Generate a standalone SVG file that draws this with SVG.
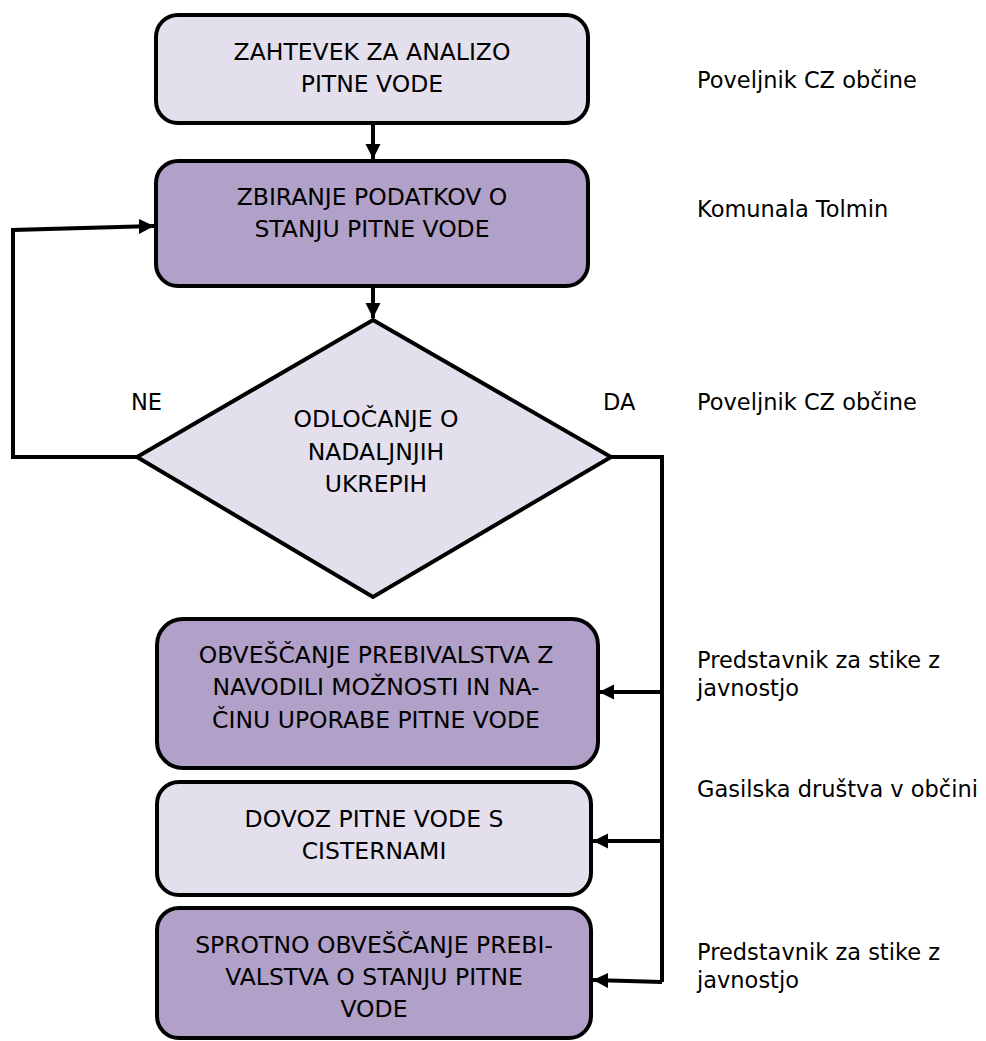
<svg xmlns="http://www.w3.org/2000/svg" width="986" height="1041" viewBox="0 0 986 1041">
<style>
.box{stroke:#000;stroke-width:4}
.light{fill:#E4DFEC}
.dark{fill:#B1A0C7}
.t{font-family:"DejaVu Sans",sans-serif;font-size:23.5px;fill:#000;text-anchor:middle}
.r{font-family:"DejaVu Sans",sans-serif;font-size:22.5px;fill:#000}
.c{fill:none;stroke:#000;stroke-width:4}
</style>
<defs>
<marker id="ah" markerWidth="4" markerHeight="4" refX="3.8" refY="2" orient="auto" markerUnits="strokeWidth">
<path d="M0,0.1 L3.8,2 L0,3.9 Z" fill="#000"/>
</marker>
</defs>
<rect width="986" height="1041" fill="#fff"/>
<g id="connectors">
<path class="c" d="M373,123 V159" marker-end="url(#ah)"/>
<path class="c" d="M373,286 V318" marker-end="url(#ah)"/>
<path class="c" d="M137,457 H13 V230 L154,226" marker-end="url(#ah)"/>
<path class="c" d="M611,457 H662 V982"/>
<path class="c" d="M662,692 H599" marker-end="url(#ah)"/>
<path class="c" d="M662,841 H593" marker-end="url(#ah)"/>
<path class="c" d="M662,982 L593,980" marker-end="url(#ah)"/>
</g>
<g id="n1">
<rect class="box light" x="156" y="15" width="432" height="108" rx="22"/>
<text class="t" x="372" y="60">ZAHTEVEK ZA ANALIZO</text>
<text class="t" x="372" y="92">PITNE VODE</text>
</g>
<g id="n2">
<rect class="box dark" x="156" y="161" width="432" height="125" rx="22"/>
<text class="t" x="372" y="205">ZBIRANJE PODATKOV O</text>
<text class="t" x="372" y="237">STANJU PITNE VODE</text>
</g>
<g id="n3">
<polygon class="box light" points="373,320 611,457 373,597 137,457" stroke-linejoin="miter"/>
<text class="t" x="376" y="427">ODLOČANJE O</text>
<text class="t" x="376" y="460">NADALJNJIH</text>
<text class="t" x="376" y="492">UKREPIH</text>
</g>
<g id="n4">
<rect class="box dark" x="157" y="619" width="441" height="149" rx="26"/>
<text class="t" x="376" y="663">OBVEŠČANJE PREBIVALSTVA Z</text>
<text class="t" x="376" y="695">NAVODILI MOŽNOSTI IN NA-</text>
<text class="t" x="376" y="728">ČINU UPORABE PITNE VODE</text>
</g>
<g id="n5">
<rect class="box light" x="157" y="782" width="434" height="113" rx="22"/>
<text class="t" x="374" y="827">DOVOZ PITNE VODE S</text>
<text class="t" x="374" y="859">CISTERNAMI</text>
</g>
<g id="n6">
<rect class="box dark" x="157" y="908" width="434" height="130" rx="22"/>
<text class="t" x="374" y="953">SPROTNO OBVEŠČANJE PREBI-</text>
<text class="t" x="374" y="985">VALSTVA O STANJU PITNE</text>
<text class="t" x="374" y="1017">VODE</text>
</g>
<g id="labels">
<text class="r" x="131" y="410">NE</text>
<text class="r" x="603" y="410">DA</text>
<text class="r" x="697" y="88">Poveljnik CZ občine</text>
<text class="r" x="697" y="217">Komunala Tolmin</text>
<text class="r" x="697" y="410">Poveljnik CZ občine</text>
<text class="r" x="697" y="668">Predstavnik za stike z</text>
<text class="r" x="697" y="696">javnostjo</text>
<text class="r" x="697" y="797">Gasilska društva v občini</text>
<text class="r" x="697" y="960">Predstavnik za stike z</text>
<text class="r" x="697" y="988">javnostjo</text>
</g>
</svg>
